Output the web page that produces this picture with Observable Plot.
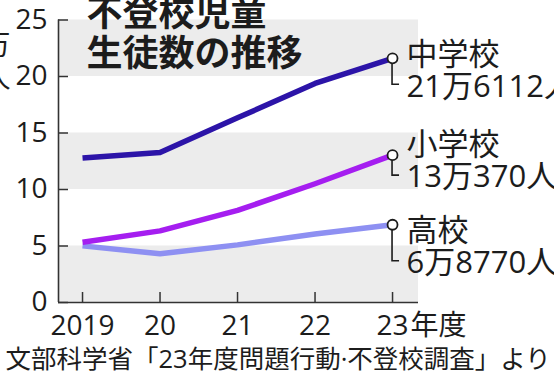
<!DOCTYPE html>
<html>
<head>
<meta charset="utf-8">
<script src="https://cdn.jsdelivr.net/npm/d3@7"></script>
<script src="https://cdn.jsdelivr.net/npm/@observablehq/plot@0.6"></script>
<style>
  html, body { margin: 0; padding: 0; background: #fff; }
  svg { display: block; }
</style>
</head>
<body>
<div id="chart"></div>
<script>
// ---- data ----
const years = [2019, 2020, 2021, 2022, 2023];
const tickLabels = ["2019", "20", "21", "22", "23"];
const yTicks = [0, 5, 10, 15, 20, 25];
const bandLow = [0, 10, 20];
const bandHigh = [5, 15, 25];
const seriesNames = ["高校", "小学校", "中学校"];           // drawing order
const highSchool   = [5.01, 4.31, 5.10, 6.06, 6.88];      // 万人
const elementary   = [5.34, 6.34, 8.15, 10.51, 13.04];
const juniorHigh   = [12.79, 13.28, 16.34, 19.39, 21.61];
const endCounts    = ["6万8770人", "13万370人", "21万6112人"];
const titleText = "不登校児童\n生徒数の推移";
const unitText = "万\n人";
const yearSuffix = "年度";
const sourceText = "文部科学省「23年度問題行動·不登校調査」より";

// ---- build table ----
const valuesBySeries = [highSchool, elementary, juniorHigh];
const rows = [];
seriesNames.forEach((s, i) => years.forEach((yr, j) => rows.push({series: s, year: yr, value: valuesBySeries[i][j]})));
const ends = seriesNames.map((s, i) => ({series: s, year: years[years.length - 1], value: valuesBySeries[i][years.length - 1], label: s + "\n" + endCounts[i]}));
const bands = bandLow.map((lo, i) => ({lo, hi: bandHigh[i]}));

// ---- styling ----
const colors = {"中学校": "#2c14a8", "小学校": "#a51ef0", "高校": "#8e90f2"};
const labelDy = {"中学校": 12, "小学校": 6, "高校": 22};
const FONT = "'Open Sans', 'Noto Sans CJK JP', sans-serif";
const ink = "#1c1c1c";
const xDomain = [2018.69, 2023.335];
const W = 554, H = 380, mL = 58, mR = 136, mT = 19.5, mB = 78;
const frameW = W - mL - mR, frameH = H - mT - mB;

function connectors(index, scales) {
  const sx = scales.x, sy = scales.y;
  const g = d3.create("svg:g").attr("fill", "none").attr("stroke", ink).attr("stroke-width", 1.6);
  for (const e of ends) {
    const cx = sx(e.year), cy = sy(e.value);
    const cornerY = cy + labelDy[e.series] + 14.5;
    g.append("path").attr("d", `M${cx},${cy + 5}V${cornerY}H${cx + 7}`);
  }
  return g.node();
}

const plot = Plot.plot({
  width: W, height: H,
  marginLeft: mL, marginRight: mR, marginTop: mT, marginBottom: mB,
  style: {fontFamily: FONT, background: "#fff", color: ink, overflow: "visible"},
  x: {domain: xDomain},
  y: {domain: [0, 25]},
  color: {domain: Object.keys(colors), range: Object.values(colors)},
  marks: [
    Plot.rect(bands, {y1: "lo", y2: "hi", fill: "#ececec"}),
    Plot.axisY({ticks: yTicks, tickSize: 0, tickPadding: 11, fontSize: 28, label: null, fill: ink}),
    Plot.axisX({ticks: years, tickSize: 0, tickPadding: 13, fontSize: 28, label: null, fill: ink,
      tickFormat: d => tickLabels[years.indexOf(d)]}),
    Plot.text([yearSuffix], {x: years[years.length - 1], frameAnchor: "bottom", textAnchor: "start", lineAnchor: "top",
      dx: 18, dy: 13, fontSize: 28, fill: ink}),
    Plot.tickY(yTicks, {y: d => d, stroke: "#333", strokeWidth: 1.5, insetRight: frameW - 10}),
    Plot.tickX(years, {x: d => d, stroke: "#333", strokeWidth: 1.5, insetTop: frameH - 10}),
    Plot.ruleX([xDomain[0]], {stroke: "#333", strokeWidth: 1.6}),
    Plot.ruleY([0], {stroke: "#333", strokeWidth: 1.6}),
    Plot.line(rows, {x: "year", y: "value", z: "series", stroke: "series", strokeWidth: 5.5, strokeLinecap: "butt", strokeLinejoin: "round"}),
    connectors,
    Plot.dot(ends, {x: "year", y: "value", r: 5, fill: "#fff", stroke: ink, strokeWidth: 1.8}),
    ...ends.map(e => Plot.text([e], {x: "year", y: "value", text: "label", textAnchor: "start", lineAnchor: "middle",
      dx: 14, dy: labelDy[e.series], lineHeight: 32 / 31, fontSize: 31, fill: ink})),
    Plot.text([titleText], {frameAnchor: "top-left", textAnchor: "start", lineAnchor: "top", dx: 28, dy: -22,
      fontSize: 36, lineHeight: 40 / 36, fontWeight: 700, fill: ink}),
    Plot.text([unitText], {frameAnchor: "top-left", textAnchor: "middle", lineAnchor: "top", dx: -62, dy: 12,
      fontSize: 28, lineHeight: 33 / 28, fill: ink}),
    Plot.text([sourceText], {frameAnchor: "bottom-left", textAnchor: "start", lineAnchor: "middle", dx: -53, dy: 57,
      fontSize: 25.5, fill: ink})
  ]
});
document.getElementById("chart").appendChild(plot);
</script>
</body>
</html>
